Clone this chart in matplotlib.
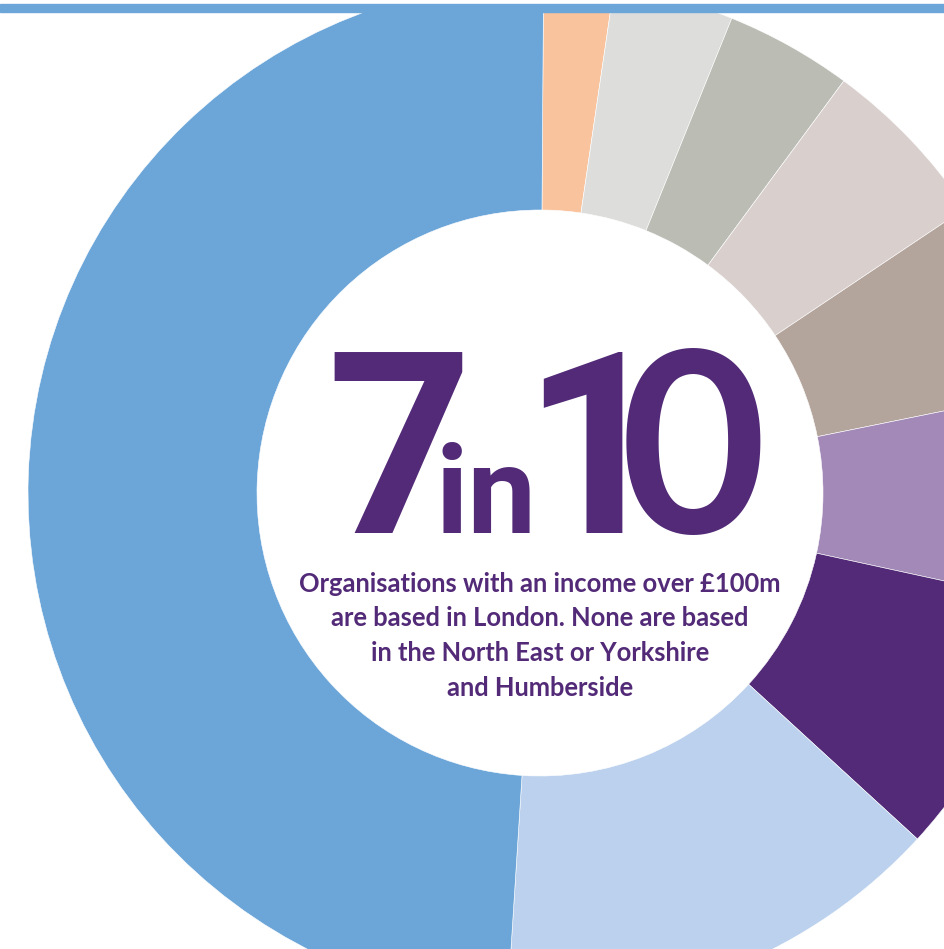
import matplotlib.pyplot as plt
from matplotlib.patches import Rectangle

# ── data ──────────────────────────────────────────────────────────────────────
# share of organisations (%) per segment, clockwise from 12 o'clock
SEGMENTS = ["seg_1", "seg_2", "seg_3", "seg_4", "seg_5",
            "seg_6", "seg_7", "seg_8", "London"]
SHARES = [2.2, 3.8, 4.0, 5.5, 6.2, 6.6, 8.4, 14.2, 49.1]
COLOURS = ["#f9c39e", "#dddedb", "#bbbdb5", "#d9d0ce", "#b3a49c",
           "#a389b8", "#522a77", "#bbd1ed", "#6ca6d9"]

CAPTION = ["Organisations with an income over £100m",
           "are based in London. None are based",
           "in the North East or Yorkshire",
           "and Humberside"]

PURPLE = "#522a77"
BLUE = "#6ca6d9"
BIG_FONT = ["Roboto", "DejaVu Sans"]
FONT = ["Lato", "DejaVu Sans"]

# ── figure (1 data unit = 1 pixel) ────────────────────────────────────────────
W, H, TOP = 945, 949, 12
fig = plt.figure(figsize=(W / 100, H / 100), dpi=100)
ax = fig.add_axes([0, 0, 1, (H - TOP) / H])

cx, cy = 540, H - 493
r_out, r_in = 512, 283

wedges, _ = ax.pie(SHARES, colors=COLOURS, radius=r_out, center=(cx, cy),
                   startangle=89.6, counterclock=False,
                   wedgeprops=dict(width=r_out - r_in, edgecolor="white",
                                   linewidth=0.4))
for w in wedges:
    w.set_clip_on(True)
    w.set_clip_box(ax.bbox)
ax.set_xlim(0, W)
ax.set_ylim(0, H - TOP)
ax.set_aspect("equal")
ax.axis("off")

# thin band across the top
fig.patches.append(Rectangle((0, (H - 12) / H), 1, 8 / H,
                             transform=fig.transFigure, color=BLUE))

# ── centre text: "7 in 10" ────────────────────────────────────────────────────
base = H - 533
big = dict(fontsize=183, fontweight="bold", family=BIG_FONT, color=PURPLE,
           va="baseline")
ax.text(326, base, "7", ha="left", **big)
ax.text(436, base, "in", ha="left", fontsize=88, fontweight="bold",
        family=BIG_FONT, color=PURPLE, va="baseline")
ax.text(522, base, "1", ha="left", **big)
ax.text(693, base, "0", ha="center", fontsize=182, fontweight="bold",
        family=FONT, color=PURPLE, va="baseline")

for i, line in enumerate(CAPTION):
    ax.text(cx, H - 592 - i * 34.5, line, fontsize=18.4, fontweight="bold",
            family=FONT, color=PURPLE, ha="center", va="baseline")

fig.savefig("out.png", dpi=100, facecolor="white")
